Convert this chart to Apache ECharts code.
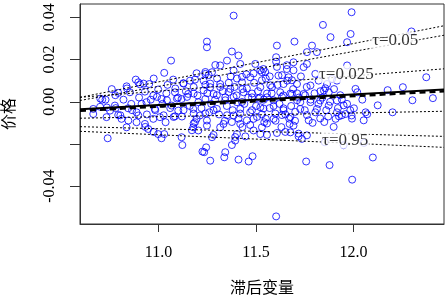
<!DOCTYPE html>
<html>
<head>
<meta charset="utf-8">
<script src="https://cdn.jsdelivr.net/npm/echarts@6/dist/echarts.min.js"></script>
<style>
  html, body { margin: 0; padding: 0; background: #fff; }
  #main { width: 448px; height: 297px; }
</style>
</head>
<body>
<div id="main"></div>
<script>
// 散点：滞后变量 vs 价格
var lagVar = [
  11.064, 11.029, 11.195, 10.883, 10.896, 10.905, 10.836, 10.952, 11.046, 11.075,
  11.127, 11.161, 11.187, 10.793, 10.711, 10.728, 10.853, 10.930, 10.998, 10.973,
  11.015, 11.084, 11.118, 11.152, 10.665, 10.776, 10.844, 10.913, 10.981, 11.067,
  11.101, 11.178, 11.204, 10.938, 10.751, 10.887, 11.385, 11.248, 11.248, 11.376,
  11.410, 11.607, 11.697, 11.843, 11.787, 11.812, 11.761, 11.603, 11.603, 11.351,
  11.316, 11.291, 11.419, 11.496, 11.538, 11.530, 11.692, 11.744, 11.761, 11.804,
  11.658, 11.615, 11.667, 11.385, 11.274, 11.240, 11.231, 11.470, 11.428, 11.316,
  11.368, 11.522, 11.582, 11.641, 11.710, 11.779, 11.821, 11.624, 11.684, 11.744,
  11.436, 11.265, 11.282, 11.342, 11.479, 11.556, 11.240, 11.402, 11.779, 11.829,
  11.299, 11.419, 11.522, 11.641, 11.727, 11.812, 11.990, 11.882, 11.985, 11.967,
  12.297, 11.967, 11.890, 11.915, 11.864, 11.848, 11.873, 12.010, 12.253, 12.373,
  12.407, 12.019, 12.045, 11.967, 11.915, 12.002, 11.873, 11.915, 11.959, 12.062,
  11.850, 11.898, 11.949, 11.983, 11.992, 12.052, 12.070, 11.940, 11.949, 11.761,
  11.908, 11.925, 11.990, 11.853, 12.053, 12.099, 11.877, 11.993, 11.603, 11.757,
  11.265, 11.337, 11.342, 11.410, 11.462, 11.482, 11.234, 11.244, 11.376, 11.393,
  11.274, 11.282, 11.445, 11.487, 11.522, 11.556, 11.607, 11.676, 11.718, 11.735,
  11.316, 11.333, 11.419, 11.530, 11.542, 11.672, 11.692, 11.248, 11.248, 11.385,
  11.487, 11.590, 11.633, 11.761, 11.402, 10.739, 10.836, 10.733, 10.810, 10.845,
  10.887, 10.930, 10.947, 10.973, 11.007, 10.998, 11.015, 11.029, 11.036, 11.084,
  11.118, 11.122, 11.178, 11.187, 11.195, 11.204, 11.212, 11.225, 10.665, 10.793,
  10.896, 10.975, 11.086, 11.128, 11.240, 11.257, 11.265, 11.316, 11.359, 11.402,
  11.428, 11.453, 11.487, 11.522, 11.547, 11.530, 11.573, 11.607, 11.633, 11.658,
  11.684, 11.692, 10.992, 11.043, 11.094, 11.146, 11.180, 11.231, 11.299, 11.342,
  11.385, 11.428, 11.479, 11.513, 11.556, 11.590, 11.633, 11.676, 11.710, 10.983,
  11.026, 11.077, 11.128, 11.180, 11.180, 11.240, 11.282, 11.351, 11.376, 11.393,
  11.419, 11.453, 11.479, 11.505, 11.538, 11.556, 11.599, 11.641, 11.650, 11.676,
  11.701, 11.718, 10.974, 11.171, 11.727, 11.752, 11.804, 11.829, 11.770, 11.855,
  11.932, 12.124, 12.200, 12.302, 12.175, 10.701, 10.778, 10.838, 10.700, 10.735,
  10.932, 10.923, 10.864, 10.804, 11.250, 11.270, 11.290, 11.310, 11.330, 11.350,
  11.360, 11.380, 11.400, 11.410, 11.430, 11.440, 11.460, 11.470, 11.490, 11.500,
  11.510, 11.530, 11.540, 11.550, 11.570, 11.580, 11.600, 11.610, 11.620, 11.640,
  11.650, 11.660, 11.680, 11.690, 11.700, 11.720, 11.730, 11.750, 11.760, 11.780,
  11.790, 11.800, 11.820, 11.840, 11.860, 11.880, 11.900, 11.920, 11.940, 11.200,
  11.220, 11.180, 11.160, 11.140, 11.120, 11.100, 11.060, 11.040, 11.020, 10.960,
  10.940, 10.900, 10.860, 10.820, 10.780, 10.760, 11.300, 11.450, 11.570, 11.340,
  11.470, 11.630, 11.260, 11.390, 11.520, 11.590, 11.710, 11.830, 11.870, 11.670,
  11.550, 11.430, 11.370, 11.240
];
var price = [
  0.0195, 0.0137, 0.0135, 0.0105, 0.0092, 0.0082, 0.0073, 0.0084, 0.0080, 0.0105,
  0.0088, 0.0100, 0.0105, 0.0042, 0.0010, 0.0010, 0.0045, 0.0048, 0.0058, 0.0029,
  0.0013, 0.0045, 0.0013, 0.0037, -0.0034, -0.0018, -0.0031, -0.0010, -0.0034, -0.0018,
  -0.0042, -0.0034, -0.0002, -0.0002, -0.0042, -0.0050, 0.0408, 0.0285, 0.0258, 0.0238,
  0.0219, 0.0266, 0.0285, 0.0364, 0.0266, 0.0235, 0.0235, 0.0211, 0.0190, 0.0195,
  0.0172, 0.0174, 0.0179, 0.0179, 0.0155, 0.0140, 0.0187, 0.0164, 0.0179, 0.0132,
  0.0155, 0.0124, 0.0116, 0.0148, 0.0140, 0.0132, 0.0100, 0.0116, 0.0092, 0.0084,
  0.0061, 0.0069, 0.0069, 0.0084, 0.0084, 0.0077, 0.0100, 0.0045, 0.0037, 0.0037,
  0.0045, 0.0069, 0.0037, 0.0021, 0.0021, 0.0021, 0.0013, -0.0002, -0.0002, 0.0006,
  -0.0034, -0.0034, -0.0026, -0.0031, -0.0034, -0.0034, 0.0424, 0.0306, 0.0321, 0.0282,
  0.0333, 0.0172, 0.0108, 0.0100, 0.0084, 0.0053, 0.0045, 0.0061, 0.0069, 0.0116,
  0.0017, 0.0045, 0.0010, -0.0010, 0.0006, -0.0031, -0.0018, -0.0050, -0.0058, -0.0050,
  -0.0096, -0.0119, -0.0017, -0.0040, -0.0080, -0.0088, -0.0059, -0.0064, -0.0206, -0.0159,
  -0.0081, -0.0069, -0.0065, -0.0192, -0.0195, -0.0264, -0.0300, -0.0369, -0.0543, -0.0283,
  -0.0279, -0.0263, -0.0239, -0.0274, -0.0283, -0.0258, -0.0239, -0.0216, -0.0205, -0.0184,
  -0.0168, -0.0157, -0.0164, -0.0136, -0.0153, -0.0157, -0.0148, -0.0145, -0.0164, -0.0176,
  -0.0121, -0.0105, -0.0105, -0.0121, -0.0097, -0.0105, -0.0113, -0.0113, -0.0089, -0.0065,
  -0.0081, -0.0081, -0.0063, -0.0063, -0.0153, -0.0173, -0.0121, -0.0073, -0.0081, -0.0089,
  -0.0097, -0.0105, -0.0129, -0.0081, -0.0073, -0.0153, -0.0173, -0.0153, -0.0097, -0.0069,
  -0.0168, -0.0205, -0.0121, -0.0097, -0.0081, -0.0136, -0.0065, -0.0236, -0.0058, -0.0063,
  -0.0065, 0.0110, 0.0063, 0.0086, 0.0141, 0.0126, 0.0086, 0.0070, 0.0046, 0.0110,
  0.0118, 0.0063, 0.0134, 0.0149, 0.0141, 0.0102, 0.0078, 0.0165, 0.0126, 0.0173,
  0.0102, 0.0149, 0.0023, 0.0007, 0.0015, 0.0023, 0.0039, 0.0054, 0.0031, 0.0007,
  0.0023, -0.0001, 0.0039, 0.0015, 0.0039, 0.0007, 0.0023, 0.0039, 0.0007, -0.0040,
  -0.0064, -0.0072, -0.0040, -0.0056, -0.0103, -0.0056, -0.0040, -0.0064, -0.0096, -0.0167,
  -0.0056, -0.0088, -0.0040, -0.0072, -0.0032, -0.0103, -0.0056, -0.0040, -0.0143, -0.0072,
  -0.0048, -0.0151, -0.0143, -0.0135, -0.0002, 0.0031, -0.0050, -0.0079, -0.0088, 0.0064,
  0.0031, -0.0017, -0.0050, 0.0007, 0.0055, 0.0015, 0.0031, 0.0063, -0.0024, -0.0027,
  -0.0119, 0.0086, -0.0040, -0.0064, 0.0040, -0.0010, 0.0010, -0.0060, 0.0050, -0.0020,
  0.0090, -0.0040, 0.0030, -0.0080, 0.0060, -0.0010, 0.0020, -0.0050, 0.0090, -0.0020,
  0.0050, -0.0060, 0.0010, 0.0110, -0.0030, 0.0040, -0.0090, 0.0080, -0.0010, 0.0030,
  -0.0060, 0.0100, -0.0020, 0.0060, -0.0090, 0.0020, 0.0120, -0.0040, 0.0070, 0.0010,
  -0.0100, 0.0040, -0.0010, 0.0020, -0.0040, 0.0000, 0.0060, -0.0030, 0.0010, 0.0030,
  -0.0030, 0.0070, -0.0020, 0.0050, -0.0070, 0.0020, -0.0030, 0.0040, -0.0010, 0.0010,
  -0.0060, 0.0020, -0.0010, 0.0010, -0.0030, 0.0060, 0.0110, 0.0130, 0.0120, -0.0090,
  -0.0110, -0.0120, -0.0050, 0.0070, 0.0020, -0.0020, 0.0040, 0.0050, -0.0070, -0.0080,
  -0.0080, -0.0120, 0.0120, 0.0080
];

// 回归线两端 (x 取坐标轴两端)
var xEnds = [10.597, 12.464];
var tauLeft = [0.0021, 0.0006, 0.0021, -0.0078, -0.0118, -0.0140];
var tauRight = [0.0360, 0.0315, 0.0156, -0.0045, -0.0164, -0.0216];
var olsEnds = [-0.0036, 0.0058];
var medEnds = [-0.0043, 0.0050];

// 注释文字
var noteText = ['τ=0.05', 'τ=0.025', 'τ=0.95'];
var noteX = [12.214, 11.963, 11.957];
var noteY = [0.0291, 0.0130, -0.0182];

var xTicks = [11.0, 11.5, 12.0];
var yTicks = [-0.04, -0.02, 0, 0.02, 0.04];
var yLabels = [-0.04, 0, 0.02, 0.04];

var serif = 'Liberation Serif, DejaVu Serif, serif';
var cjk = 'Noto Sans CJK SC, sans-serif';

var points = [];
lagVar.forEach(function (x, i) {
  points.push([x, price[i]]);
});

var series = [{
  type: 'scatter',
  data: points,
  symbol: 'circle',
  symbolSize: 7,
  itemStyle: {color: 'rgba(0,0,0,0)', borderColor: '#0000ff', borderWidth: 1},
  silent: true,
  z: 2
}];

tauLeft.forEach(function (v, i) {
  series.push({
    type: 'line',
    data: [[xEnds[0], v], [xEnds[1], tauRight[i]]],
    symbol: 'none',
    lineStyle: {color: '#000', width: 1, type: [2, 2]},
    silent: true,
    z: 3
  });
});

series.push({
  type: 'line',
  data: [[xEnds[0], olsEnds[0]], [xEnds[1], olsEnds[1]]],
  symbol: 'none',
  lineStyle: {color: '#000', width: 2},
  silent: true,
  z: 4
});
series.push({
  type: 'line',
  data: [[xEnds[0], medEnds[0]], [xEnds[1], medEnds[1]]],
  symbol: 'none',
  lineStyle: {color: '#000', width: 2.5, type: [6, 4]},
  silent: true,
  z: 4
});

var notes = [];
noteText.forEach(function (t, i) {
  notes.push({name: t, value: [noteX[i], noteY[i]]});
});
series.push({
  type: 'scatter',
  data: notes,
  symbolSize: 0,
  silent: true,
  z: 5,
  itemStyle: {color: '#000'},
  label: {
    show: true,
    position: 'inside',
    formatter: '{b}',
    fontFamily: serif,
    fontSize: 17,
    color: '#000',
    textBorderWidth: 0,
    backgroundColor: '#fff',
    padding: [0, 1]
  }
});

var chart = echarts.init(document.getElementById('main'));
chart.setOption({
  animation: false,
  backgroundColor: '#fff',
  grid: {
    left: 80, right: 4, top: 4, bottom: 73,
    outerBoundsMode: 'none', containLabel: false,
    show: true, borderColor: '#333', borderWidth: 1
  },
  xAxis: {
    type: 'value',
    min: xEnds[0],
    max: xEnds[1],
    name: '滞后变量',
    nameLocation: 'middle',
    nameGap: 55,
    nameTextStyle: {fontFamily: cjk, fontSize: 16, color: '#000'},
    axisLine: {show: true, onZero: false, lineStyle: {color: '#333'}},
    axisTick: {show: true, length: 8, customValues: xTicks, lineStyle: {color: '#333'}},
    axisLabel: {
      customValues: xTicks, margin: 21, fontFamily: serif, fontSize: 16, color: '#000',
      formatter: function (v) { return v.toFixed(1); }
    },
    splitLine: {show: false}
  },
  yAxis: {
    type: 'value',
    min: -0.0579,
    max: 0.0463,
    name: '价格',
    nameLocation: 'middle',
    nameGap: 64,
    nameTextStyle: {fontFamily: cjk, fontSize: 16, color: '#000'},
    axisLine: {show: true, onZero: false, lineStyle: {color: '#333'}},
    axisTick: {show: true, length: 10, customValues: yTicks, lineStyle: {color: '#333'}},
    axisLabel: {
      customValues: yLabels, rotate: 90, margin: 22, fontFamily: serif, fontSize: 16, color: '#000',
      formatter: function (v) { return v.toFixed(2); }
    },
    splitLine: {show: false}
  },
  series: series
});
</script>
</body>
</html>
